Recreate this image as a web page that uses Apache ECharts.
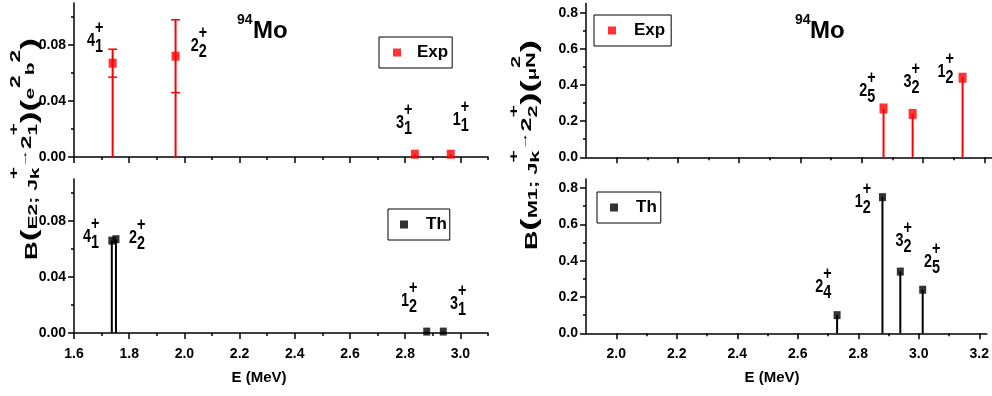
<!DOCTYPE html>
<html><head><meta charset="utf-8">
<script src="https://cdn.jsdelivr.net/npm/echarts@6/dist/echarts.min.js"></script>
<style>html,body{margin:0;padding:0;background:#fff}#c{width:992px;height:396px}</style>
</head><body><div id="c"></div><script>
// ---------- data ----------
const e2ExpEnergy = [1.740, 1.968, 2.835, 2.965];
const e2ExpValue  = [0.067, 0.072, 0.002, 0.002];
const e2ExpError  = [0.010, 0.026, 0, 0];
const e2ThEnergy  = [1.737, 1.752, 2.878, 2.938];
const e2ThValue   = [0.066, 0.067, 0.001, 0.001];
const m1ExpEnergy = [2.871, 2.966, 3.129];
const m1ExpValue  = [0.27, 0.24, 0.44];
const m1ThEnergy  = [2.730, 2.880, 2.939, 3.013];
const m1ThValue   = [0.10, 0.75, 0.34, 0.24];

// level labels (text + anchor in data units)
const e2ExpLabelText = [['4','1'],['2','2'],['3','1'],['1','1']];
const e2ExpLabelE = [1.647, 2.023, 2.767, 2.972];
const e2ExpLabelB = [0.0825, 0.0793, 0.0243, 0.0261];
const e2ThLabelText = [['4','1'],['2','2'],['1','2'],['3','1']];
const e2ThLabelE = [1.633, 1.799, 2.785, 2.962];
const e2ThLabelB = [0.0683, 0.0676, 0.023, 0.0208];
const m1ExpLabelText = [['2','5'],['3','2'],['1','2']];
const m1ExpLabelE = [2.792, 2.936, 3.047];
const m1ExpLabelB = [0.364, 0.416, 0.469];
const m1ThLabelText = [['2','4'],['1','2'],['3','2'],['2','5']];
const m1ThLabelE = [2.658, 2.788, 2.923, 3.017];
const m1ThLabelB = [0.253, 0.724, 0.510, 0.391];

// ticks
const e2XMajor = [1.6, 1.8, 2.0, 2.2, 2.4, 2.6, 2.8, 3.0];
const e2XMinor = [1.7, 1.9, 2.1, 2.3, 2.5, 2.7, 2.9, 3.1];
const m1XMajor = [2.0, 2.2, 2.4, 2.6, 2.8, 3.0, 3.2];
const m1XMinor = [2.1, 2.3, 2.5, 2.7, 2.9, 3.1];
const e2YMajor = [0, 0.04, 0.08];
const e2YMinor = [0.02, 0.06, 0.10];
const m1YMajor = [0, 0.2, 0.4, 0.6, 0.8];
const m1YMinor = [0.1, 0.3, 0.5, 0.7];

// ---------- styling ----------
const FF = "'Liberation Sans', Arial, sans-serif";
const RED = '#ff0000', BLK = '#000000';
const mctx = document.createElement('canvas').getContext('2d');
function measure(t, font) { mctx.font = font; return mctx.measureText(t).width; }

const grids = [
  {left: 74, top: 3, width: 414, height: 154},
  {left: 74, top: 179, width: 414, height: 154},
  {left: 586, top: 3.6, width: 406, height: 153.7},
  {left: 586, top: 179, width: 406, height: 154.3}
];

function xAxes(gi, min, max, major, minor, showLabels) {
  return [
    {type: 'value', gridIndex: gi, position: 'bottom', min, max,
     axisLine: {show: true, onZero: false, lineStyle: {color: BLK, width: 1.5}},
     splitLine: {show: false},
     axisTick: {show: true, customValues: minor, length: 3, lineStyle: {color: BLK, width: 1.5}},
     axisLabel: {show: showLabels, customValues: major, formatter: v => v.toFixed(1), color: BLK,
                 fontWeight: 'bold', fontSize: 14, fontFamily: FF, margin: 14}},
    {type: 'value', gridIndex: gi, position: 'bottom', min, max,
     axisLine: {show: false}, splitLine: {show: false},
     axisTick: {show: true, customValues: major, length: 6, lineStyle: {color: BLK, width: 1.5}},
     axisLabel: {show: false}}
  ];
}
function yAxes(gi, min, max, major, minor, digits) {
  return [
    {type: 'value', gridIndex: gi, position: 'left', min, max,
     axisLine: {show: true, onZero: false, lineStyle: {color: BLK, width: 1.5}},
     splitLine: {show: false},
     axisTick: {show: true, customValues: minor, length: 3, lineStyle: {color: BLK, width: 1.5}},
     axisLabel: {show: true, customValues: major, formatter: v => v.toFixed(digits), color: BLK,
                 fontWeight: 'bold', fontSize: 14, fontFamily: FF, margin: 8}},
    {type: 'value', gridIndex: gi, position: 'left', min, max,
     axisLine: {show: false}, splitLine: {show: false},
     axisTick: {show: true, customValues: major, length: 6, lineStyle: {color: BLK, width: 1.5}},
     axisLabel: {show: false}}
  ];
}

function scatterSeries(name, gi, E, V, color, size) {
  return {type: 'scatter', name, xAxisIndex: 2 * gi, yAxisIndex: 2 * gi,
    data: E.map((e, i) => [e, V[i]]), symbol: 'rect', symbolSize: size,
    itemStyle: {color}, z: 4, silent: true};
}
function stemSeries(name, gi, E, V, Err, color) {
  return {type: 'custom', name, xAxisIndex: 2 * gi, yAxisIndex: 2 * gi, silent: true, z: 3,
    data: E.map((e, i) => [e, V[i], Err ? Err[i] : 0]),
    encode: {x: 0, y: 1},
    renderItem(params, api) {
      const x = api.value(0), v = api.value(1), er = api.value(2);
      const p0 = api.coord([x, 0]), p1 = api.coord([x, v + er]);
      const ch = [{type: 'line', shape: {x1: p0[0], y1: p0[1], x2: p1[0], y2: p1[1]},
                   style: {stroke: color, lineWidth: 2}}];
      if (er > 0) {
        const pt = api.coord([x, v + er]), pb = api.coord([x, v - er]);
        ch.push({type: 'line', shape: {x1: pt[0] - 4.5, y1: pt[1], x2: pt[0] + 4.5, y2: pt[1]}, style: {stroke: color, lineWidth: 1.5}});
        ch.push({type: 'line', shape: {x1: pb[0] - 4.5, y1: pb[1], x2: pb[0] + 4.5, y2: pb[1]}, style: {stroke: color, lineWidth: 1.5}});
      }
      return {type: 'group', children: ch};
    }};
}
const LBL_FONT = 'bold 18px ' + FF;
function labelSeries(gi, E, B, texts) {
  return {type: 'custom', xAxisIndex: 2 * gi, yAxisIndex: 2 * gi, silent: true, z: 5,
    data: E.map((e, i) => [e, B[i]]), encode: {x: 0, y: 1},
    renderItem(params, api) {
      const p = api.coord([api.value(0), api.value(1)]);
      const t = texts[params.dataIndex];
      const bw = measure(t[0], LBL_FONT);
      const st = s => ({text: s, font: LBL_FONT, fill: BLK, align: 'left', verticalAlign: 'middle'});
      return {type: 'group', x: p[0], y: p[1], scaleX: 0.8, scaleY: 1, children: [
        {type: 'text', x: 0, y: 0, style: st(t[0])},
        {type: 'text', x: bw, y: -13, style: st('+')},
        {type: 'text', x: bw, y: 6, style: st(t[1])}
      ]};
    }};
}

// rotated, composed y-axis title
function rotTitle(tokens, cx, yb, targetLen) {
  const children = []; let cur = 0;
  const fnt = s => 'bold ' + s + 'px ' + FF;
  const txt = (s, x, y, f) => ({type: 'text', x, y, style: {text: s, font: f, fill: BLK, align: 'left', verticalAlign: 'middle'}});
  for (const tk of tokens) {
    const f = fnt(tk.size);
    if (tk.stack) {
      const w = Math.max(measure(tk.sup, f), measure(tk.sub, f));
      children.push(txt(tk.sup, cur, tk.supDy, f));
      children.push(txt(tk.sub, cur, tk.subDy, f));
      cur += w;
    } else {
      children.push(txt(tk.t, cur, tk.dy || 0, f));
      cur += measure(tk.t, f);
    }
  }
  const sx = targetLen / cur;
  return {type: 'group', x: cx, y: yb, rotation: Math.PI / 2, scaleX: sx, scaleY: 1, children};
}
const PAREN = 22;
const e2Title = [
  {t: 'B', size: 16, dy: 0},
  {t: '(', size: PAREN, dy: -3},
  {t: 'E2; J', size: 13, dy: 0},
  {stack: true, sup: '+', sub: 'k', size: 13, supDy: -19, subDy: 2},
  {t: '\u2192', size: 11, dy: -9},
  {t: '2', size: 15, dy: -6},
  {stack: true, sup: '+', sub: '1', size: 13, supDy: -19, subDy: 0},
  {t: ')', size: PAREN, dy: -3},
  {t: '(', size: PAREN, dy: -3},
  {t: 'e', size: 13, dy: -3},
  {t: '2', size: 14, dy: -17},
  {t: 'b', size: 13, dy: -3},
  {t: '2', size: 14, dy: -17},
  {t: ')', size: PAREN, dy: -3}
];
const m1Title = [
  {t: 'B', size: 16, dy: 0},
  {t: '(', size: PAREN, dy: -3},
  {t: 'M1; J', size: 13, dy: 0},
  {stack: true, sup: '+', sub: 'k', size: 13, supDy: -19, subDy: 2},
  {t: '\u2192', size: 11, dy: -9},
  {t: '2', size: 15, dy: -6},
  {stack: true, sup: '+', sub: '2', size: 13, supDy: -19, subDy: 0},
  {t: ')', size: PAREN, dy: -3},
  {t: '(', size: PAREN, dy: -3},
  {t: '\u03bc', size: 12, dy: 0},
  {stack: true, sup: '2', sub: 'N', size: 13, supDy: -17, subDy: -2},
  {t: ')', size: PAREN, dy: -3}
];

function legendBox(left, top, name, color, padding, textPad) {
  return {show: true, left, top, orient: 'horizontal', padding,
    borderColor: BLK, borderWidth: 1, borderRadius: 0, backgroundColor: '#fff',
    itemWidth: 8, itemHeight: 8, selectedMode: false,
    data: [{name, icon: 'rect', itemStyle: {color}}],
    textStyle: {color: BLK, fontWeight: 'bold', fontSize: 17, fontFamily: FF, padding: [0, 0, 0, textPad]}};
}

const chart = echarts.init(document.getElementById('c'), null, {renderer: 'canvas'});
chart.setOption({
  animation: false,
  backgroundColor: '#fff',
  grid: grids,
  xAxis: [
    ...xAxes(0, 1.6, 3.1, e2XMajor, e2XMinor, false),
    ...xAxes(1, 1.6, 3.1, e2XMajor, e2XMinor, true),
    ...xAxes(2, 1.9, 3.225, m1XMajor, m1XMinor, false),
    ...xAxes(3, 1.9, 3.225, m1XMajor, m1XMinor, true)
  ],
  yAxis: [
    ...yAxes(0, 0, 0.11, e2YMajor, e2YMinor, 2),
    ...yAxes(1, 0, 0.11, e2YMajor, e2YMinor, 2),
    ...yAxes(2, 0, 0.85, m1YMajor, m1YMinor, 1),
    ...yAxes(3, 0, 0.85, m1YMajor, m1YMinor, 1)
  ],
  legend: [
    legendBox(379, 37, 'Exp', RED, [7, 4, 7, 14], 11),
    legendBox(388, 209, 'Th', BLK, [7, 3, 7, 12], 13),
    legendBox(594, 15, 'Exp', RED, [7, 6, 7, 14], 13),
    legendBox(597, 192, 'Th', BLK, [7, 4, 7, 13], 13)
  ],
  series: [
    scatterSeries('Exp', 0, e2ExpEnergy, e2ExpValue, RED, [8, 9]),
    stemSeries('Exp', 0, e2ExpEnergy, e2ExpValue, e2ExpError, RED),
    labelSeries(0, e2ExpLabelE, e2ExpLabelB, e2ExpLabelText),
    scatterSeries('Th', 1, e2ThEnergy, e2ThValue, BLK, [7, 8]),
    stemSeries('Th', 1, e2ThEnergy, e2ThValue, null, BLK),
    labelSeries(1, e2ThLabelE, e2ThLabelB, e2ThLabelText),
    scatterSeries('Exp', 2, m1ExpEnergy, m1ExpValue, RED, [8, 10]),
    stemSeries('Exp', 2, m1ExpEnergy, m1ExpValue, null, RED),
    labelSeries(2, m1ExpLabelE, m1ExpLabelB, m1ExpLabelText),
    scatterSeries('Th', 3, m1ThEnergy, m1ThValue, BLK, [7, 8]),
    stemSeries('Th', 3, m1ThEnergy, m1ThValue, null, BLK),
    labelSeries(3, m1ThLabelE, m1ThLabelB, m1ThLabelText)
  ],
  graphic: [
    {type: 'text', x: 237, y: 20, style: {text: '94', font: 'bold 14px ' + FF, fill: BLK, verticalAlign: 'middle'}},
    {type: 'text', x: 253, y: 31, style: {text: 'Mo', font: 'bold 24px ' + FF, fill: BLK, verticalAlign: 'middle'}},
    {type: 'text', x: 795, y: 20, style: {text: '94', font: 'bold 14px ' + FF, fill: BLK, verticalAlign: 'middle'}},
    {type: 'text', x: 810, y: 31, style: {text: 'Mo', font: 'bold 24px ' + FF, fill: BLK, verticalAlign: 'middle'}},
    {type: 'text', x: 259, y: 378, style: {text: 'E (MeV)', font: 'bold 15px ' + FF, fill: BLK, align: 'center', verticalAlign: 'middle'}},
    {type: 'text', x: 772, y: 378, style: {text: 'E (MeV)', font: 'bold 15px ' + FF, fill: BLK, align: 'center', verticalAlign: 'middle'}},
    rotTitle(e2Title, 33, 260, 222),
    rotTitle(m1Title, 533, 250, 210)
  ]
});
</script></body></html>
